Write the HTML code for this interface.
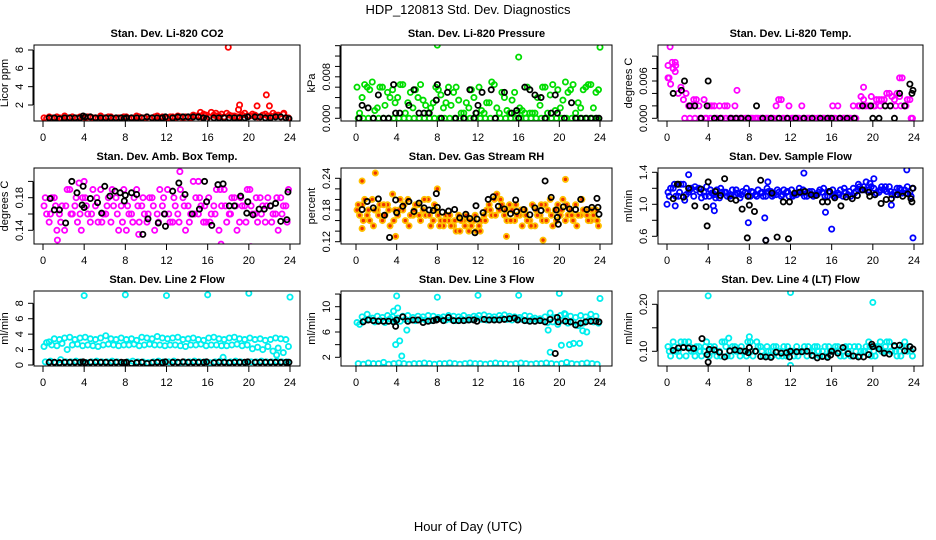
<!DOCTYPE html>
<html><head><meta charset="utf-8"><style>
html,body{margin:0;padding:0;background:#fff;}
svg{display:block;font-family:"Liberation Sans",Arial,sans-serif;}
</style></head><body>
<svg id="chart" width="936" height="540" viewBox="0 0 936 540">
<text x="468" y="14" text-anchor="middle" font-size="13">HDP_120813  Std. Dev. Diagnostics</text>
<text x="468" y="531" text-anchor="middle" font-size="13">Hour of Day (UTC)</text>
</svg>
<script>
// ---------- data arrays ----------
const xTicks = [0,4,8,12,16,20,24];

const co2A = [0.6,0.7,0.5,0.6,0.8,0.6,0.5,0.7,0.6,0.7,0.6,0.8,0.6,0.7,0.5,0.6,0.7,0.6,0.8,0.6,0.7,0.6,0.8,0.7,0.6,0.7,0.8,0.6,0.7,0.9,0.8,1.0,0.7,0.9,0.8,0.7,0.9,0.8,0.7,1.1,0.8,0.9,0.7,1.0,0.8,0.9,0.7,0.6];
const co2B = [0.5,0.6,0.7,0.5,0.6,0.7,0.6,0.5,0.7,0.6,0.5,0.6,0.7,0.5,0.6,0.7,0.5,0.6,0.7,0.6,0.5,0.7,0.6,0.6,0.7,0.6,0.7,0.7,0.6,0.8,0.7,0.9,1.2,0.8,1.0,1.1,0.8,0.7,0.9,0.8,1.0,0.7,0.9,0.8,1.1,0.9,1.0,0.6];
const co2OutHours = [18,19.1,19,20.8,21.7,22,15.3,23.4,16.8];
const co2OutVals = [8.3,2.0,1.5,1.9,3.1,1.9,1.2,1.1,1.1];
const co2BlackHours = [0.6,1.1,1.6,2.1,2.6,3.1,3.6,3.9,4.1,4.6,5.1,5.6,6.1,6.6,7.1,7.6,7.9,8.1,8.6,9.1,9.6,10.1,10.6,11.1,11.6,11.9,12.6,13.1,13.6,14.1,14.6,15.1,15.6,15.9,16.6,17.1,17.6,18.1,18.6,19.1,19.6,19.9,20.6,21.1,21.6,22.1,22.6,23.1,23.6,23.9];
const co2BlackVals = [0.6,0.6,0.5,0.6,0.6,0.6,0.6,0.8,0.7,0.7,0.6,0.6,0.6,0.6,0.6,0.6,0.5,0.6,0.6,0.6,0.6,0.7,0.6,0.6,0.6,0.7,0.6,0.7,0.7,0.7,0.7,0.7,0.6,0.5,0.6,0.6,0.6,0.6,0.6,0.6,0.6,0.7,0.7,0.7,0.6,0.6,0.7,0.7,0.6,0.5];

const presA = [0.006,0.004,0.006,0.007,0.002,0.006,0.005,0.0055,0.004,0.0065,0.003,0.002,0.004,0.0035,0.001,0.003,0.0055,0.002,0.006,0.005,0.0035,0.001,0.002,0.004,0.006,0.001,0.003,0.0065,0.001,0.004,0.001,0.005,0.002,0.001,0.001,0.001,0.0025,0.006,0.0045,0.0015,0.002,0.007,0.0055,0.001,0.002,0.006,0.0065,0.005];
const presB = [0.001,0.0065,0.0055,0.0015,0.006,0.0025,0.004,0.003,0.0065,0.001,0.005,0.0055,0.0065,0.0025,0.002,0.006,0.0045,0.003,0.0025,0.006,0.001,0.003,0.0055,0.001,0.0015,0.003,0.007,0.002,0.005,0.0015,0.0035,0.001,0.0015,0.006,0.001,0.004,0.006,0.001,0.0065,0.0055,0.0035,0.005,0.0065,0.003,0.0055,0.0065,0.002,0.0055];
const presC = [0,0,0,0,0,0,0,0,0,0,0,0,0,0,0,0,0,0,0,0,0,0,0,0,0,0,0,0,0,0,0,0,0,0,0,0,0,0,0,0,0,0,0,0,0,0,0,0];
const presOutHours = [8,16,24];
const presOutVals = [0.0141,0.0118,0.0137];
const presBlackHours = [0.3,0.6,1.2,1.7,2.2,2.7,3.2,3.7,3.9,4.3,5.2,5.7,6.2,6.7,7.2,7.9,8.0,8.4,9.0,9.8,10.6,11.2,11.6,11.8,12.0,12.4,13.3,13.7,14.6,15.3,15.8,16.0,16.6,17.1,17.6,18.2,18.6,19.2,19.6,19.8,20.5,21.2,21.6,22.1,22.6,23.1,23.6,23.9];
const presBlackVals = [0.000,0.0025,0.002,0.000,0.0045,0.000,0.000,0.0065,0.001,0.001,0.0025,0.0055,0.001,0.001,0.001,0.0035,0.0065,0.000,0.005,0.000,0.000,0.0055,0.000,0.001,0.0025,0.005,0.0055,0.000,0.005,0.001,0.0015,0.000,0.006,0.0055,0.0045,0.004,0.000,0.001,0.0045,0.001,0.000,0.003,0.000,0.000,0.000,0.000,0.000,0.000];

const tempA = [0.0065,0.008,0.004,0.003,0.002,0.003,0.002,0.003,0.002,0.002,0.002,0.002,0.0,0.002,0.0,0.0,0.0,0.0,0.0,0.0,0.0,0.002,0.003,0.0,0.0,0.0,0.002,0.0,0.0,0.0,0.0,0.0,0.002,0.002,0.0,0.0,0.002,0.002,0.003,0.002,0.002,0.003,0.003,0.004,0.003,0.0035,0.002,0.003];
const tempB = [0.0055,0.0085,0.005,0.004,0.002,0.003,0.0,0.0,0.002,0.0,0.0,0.002,0.0,0.0,0.0,0.0,0.0,0.0,0.0,0.0,0.0,0.003,0.0,0.002,0.0,0.0,0.0,0.0,0.0,0.0,0.0,0.0,0.0,0.0,0.0,0.0,0.0,0.0035,0.002,0.0035,0.003,0.003,0.004,0.0035,0.004,0.0065,0.003,0.0];
const tempC = [null,null,null,0,0,0,0,0,0,0,0,0,0,0,0,0,0,0,0,0,0,0,0,0,0,0,0,0,0,0,0,0,0,0,0,0,0,0.002,0.002,0.002,0.002,0.002,0.002,0.002,0.002,0.002,0.002,0];
const tempOutHours = [0.3,0.1,0.5,0.8,0.8,6.8,19.1,22.6,0.2];
const tempOutVals = [0.0115,0.0085,0.009,0.009,0.0075,0.0045,0.005,0.0065,0.0065];
const tempBlackHours = [0.6,1.4,1.7,2.2,2.7,3.3,3.9,4.0,4.6,5.2,6.2,6.7,7.2,7.9,8.7,9.3,10.1,10.9,11.7,12.5,13.3,14.1,14.9,15.6,16.0,16.8,17.5,18.2,19.0,19.8,20.0,20.6,21.2,21.7,22.1,22.6,23.1,23.6,23.8,23.9];
const tempBlackVals = [0.004,0.0045,0.006,0.002,0.002,0.0,0.002,0.006,0.0,0.0,0.0,0.0,0.0,0.0,0.002,0.0,0.0,0.0,0.0,0.0,0.0,0.0,0.0,0.0,0.0,0.0,0.0,0.0,0.002,0.002,0.0,0.0,0.002,0.002,0.0,0.004,0.002,0.0055,0.004,0.0045];

const ambA = [0.17,0.15,0.18,0.16,0.14,0.19,0.17,0.16,0.18,0.15,0.17,0.19,0.16,0.15,0.18,0.17,0.14,0.16,0.19,0.17,0.15,0.18,0.16,0.17,0.19,0.15,0.16,0.18,0.17,0.2,0.16,0.15,0.18,0.17,0.14,0.19,0.16,0.18,0.15,0.17,0.19,0.16,0.18,0.15,0.17,0.16,0.18,0.17];
const ambB = [0.16,0.18,0.14,0.17,0.19,0.16,0.15,0.18,0.16,0.19,0.15,0.16,0.18,0.17,0.14,0.19,0.16,0.18,0.15,0.16,0.18,0.14,0.19,0.16,0.15,0.17,0.19,0.14,0.16,0.18,0.17,0.15,0.16,0.19,0.17,0.15,0.18,0.14,0.17,0.19,0.16,0.15,0.17,0.18,0.16,0.14,0.17,0.19];
const ambC = [0.18,0.16,0.17,0.15,0.17,0.16,0.18,0.14,0.17,0.16,0.18,0.15,0.17,0.19,0.16,0.15,0.17,0.15,0.17,0.18,0.16,0.17,0.15,0.18,0.16,0.18,0.15,0.17,0.15,0.16,0.18,0.17,0.15,0.16,0.19,0.17,0.16,0.17,0.18,0.15,0.17,0.18,0.16,0.17,0.15,0.18,0.16,0.15];
const ambOutHours = [13.3,3.5,15.1,1.4,17.3,20.2,9.3,4.0];
const ambOutVals = [0.212,0.198,0.2,0.128,0.123,0.12,0.135,0.2];
const ambBlackHours = [0.7,1.1,1.6,2.2,2.8,3.3,3.8,3.9,4.0,4.6,5.3,5.7,6.0,6.5,7.0,7.5,7.9,8.0,8.6,9.1,9.7,10.2,11.2,11.8,11.9,12.6,13.2,13.8,14.5,15.2,15.7,15.9,16.4,17.0,17.5,18.1,18.6,19.2,19.8,19.9,20.4,21.0,21.5,22.1,22.6,23.1,23.7,23.8];
const ambBlackVals = [0.179,0.165,0.165,0.149,0.2,0.186,0.171,0.194,0.168,0.179,0.174,0.161,0.194,0.182,0.188,0.186,0.176,0.183,0.186,0.184,0.135,0.154,0.149,0.16,0.145,0.188,0.198,0.184,0.16,0.166,0.2,0.175,0.146,0.196,0.197,0.17,0.17,0.182,0.161,0.175,0.159,0.166,0.166,0.17,0.173,0.151,0.153,0.187];

const rhA = [0.18,0.19,0.17,0.2,0.18,0.16,0.19,0.21,0.17,0.18,0.2,0.17,0.19,0.18,0.2,0.16,0.17,0.15,0.16,0.15,0.17,0.16,0.14,0.16,0.15,0.17,0.19,0.2,0.18,0.17,0.19,0.16,0.17,0.18,0.16,0.15,0.17,0.19,0.2,0.18,0.17,0.16,0.18,0.19,0.17,0.18,0.16,0.18];
const rhB = [0.17,0.2,0.16,0.18,0.19,0.17,0.15,0.18,0.2,0.16,0.17,0.19,0.16,0.17,0.15,0.18,0.16,0.17,0.15,0.14,0.16,0.17,0.15,0.14,0.16,0.18,0.17,0.21,0.19,0.16,0.18,0.17,0.15,0.16,0.19,0.17,0.16,0.18,0.15,0.19,0.2,0.17,0.16,0.17,0.18,0.16,0.17,0.15];
const rhC = [0.19,0.16,0.18,0.15,0.17,0.19,0.18,0.16,0.18,0.19,0.15,0.18,0.17,0.2,0.17,0.19,0.15,0.16,0.17,0.16,0.14,0.15,0.16,0.17,0.14,0.16,0.18,0.17,0.2,0.18,0.16,0.19,0.18,0.17,0.15,0.18,0.19,0.16,0.17,0.16,0.18,0.19,0.17,0.15,0.2,0.17,0.18,0.16];
const rhOutHours = [1.9,0.6,0.6,3.9,18.4,20.6,8.0,14.8];
const rhOutVals = [0.25,0.235,0.145,0.13,0.123,0.238,0.22,0.13];
const rhBlackHours = [0.6,1.1,1.7,2.2,2.8,3.3,3.9,4.0,4.6,5.2,5.7,6.2,6.7,7.2,7.6,7.9,8.0,8.5,9.1,9.7,10.2,10.8,11.2,11.7,11.8,11.9,12.5,13.0,13.5,14.0,14.6,15.2,15.7,15.8,16.5,17.1,17.6,18.2,18.6,19.2,19.7,19.8,19.9,20.4,21.0,21.6,22.1,22.7,23.2,23.7,23.8,23.9];
const rhBlackVals = [0.181,0.196,0.184,0.201,0.17,0.128,0.199,0.175,0.187,0.196,0.177,0.193,0.184,0.18,0.179,0.211,0.185,0.176,0.178,0.181,0.165,0.172,0.164,0.137,0.188,0.163,0.175,0.2,0.205,0.187,0.182,0.173,0.199,0.177,0.181,0.171,0.184,0.179,0.235,0.204,0.18,0.166,0.153,0.186,0.182,0.181,0.2,0.181,0.185,0.202,0.185,0.172];

const flowA = [1.15,1.2,1.1,1.25,1.15,1.1,1.2,1.15,1.1,1.12,1.08,1.15,1.1,1.12,1.08,1.15,1.1,1.12,1.14,1.1,1.16,1.12,1.1,1.15,1.18,1.12,1.14,1.1,1.16,1.12,1.15,1.1,1.18,1.14,1.1,1.12,1.2,1.25,1.22,1.18,1.2,1.15,1.18,1.22,1.15,1.2,1.18,1.15];
const flowB = [1.2,1.1,1.25,1.12,1.2,1.18,1.08,1.22,1.14,1.18,1.15,1.1,1.18,1.14,1.16,1.1,1.15,1.18,1.1,1.16,1.12,1.15,1.18,1.1,1.12,1.2,1.1,1.16,1.12,1.18,1.1,1.15,1.12,1.18,1.15,1.1,1.16,1.18,1.28,1.22,1.14,1.22,1.16,1.12,1.2,1.14,1.22,1.2];
const flowC = [1.1,1.25,1.15,1.05,1.18,1.22,1.15,1.1,1.18,1.08,1.2,1.15,1.12,1.18,1.12,1.2,1.16,1.1,1.15,1.2,1.1,1.18,1.12,1.16,1.1,1.15,1.18,1.14,1.1,1.15,1.2,1.16,1.1,1.12,1.2,1.16,1.14,1.22,1.18,1.26,1.12,1.18,1.22,1.16,1.12,1.18,1.14,1.1];
const flowOutHours = [0,0.8,2.1,4.5,4.6,7.9,9.5,15.4,16.0,13.3,23.3,23.9,9.6,21.8,9.8,20.1];
const flowOutVals = [1.0,0.98,1.37,0.98,0.92,0.77,0.83,0.9,0.69,1.39,1.43,0.58,0.55,0.99,1.28,1.32];
const flowBlackHours = [0.6,1.0,1.1,1.6,2.1,2.7,3.3,3.8,3.9,4.0,4.7,5.2,5.6,6.2,6.7,7.3,7.8,7.9,8.0,8.5,9.1,9.6,10.2,10.7,11.3,11.8,11.9,12.4,12.9,13.4,14.0,14.5,15.1,15.6,15.8,16.3,16.9,17.4,18.0,18.5,19.0,19.6,19.7,20.2,20.8,21.3,21.8,22.4,22.9,23.4,23.7,23.8,23.9];
const flowBlackVals = [1.07,1.25,1.25,1.09,1.2,0.98,1.19,0.97,0.73,1.28,1.16,1.11,1.32,1.07,1.05,0.94,0.58,1.1,0.99,0.91,1.3,0.55,1.14,0.59,1.03,0.57,1.03,1.14,1.15,1.16,1.12,1.11,1.03,1.03,1.16,1.08,0.98,1.09,1.07,1.11,1.18,1.15,1.1,1.12,1.01,1.06,1.07,1.12,1.1,1.13,1.07,1.03,1.2];

const l2A = [2.4,3.0,3.4,3.3,3.5,3.6,3.3,3.5,3.6,3.4,3.3,3.5,3.8,3.4,3.3,3.5,3.3,3.4,3.2,3.6,3.5,3.4,3.7,3.5,3.4,3.5,3.6,3.3,3.4,3.5,3.3,3.2,3.5,3.6,3.4,3.3,3.5,3.6,3.4,3.3,3.5,3.3,3.4,3.2,3.3,3.5,3.4,3.3];
const l2B = [2.9,2.6,2.5,2.8,2.0,2.6,2.7,2.5,2.6,2.5,2.4,2.6,2.7,2.6,2.5,2.6,2.6,2.7,2.5,2.6,2.7,2.6,2.6,2.5,2.6,2.6,2.5,2.4,2.6,2.6,2.7,2.5,2.6,2.6,2.5,2.5,2.6,2.7,2.5,2.6,2.1,2.3,2.0,2.4,1.8,2.2,1.6,2.4];
const l2C = [0.4,0.5,0.3,0.7,0.4,0.4,0.5,0.4,0.3,0.4,0.5,0.4,0.4,0.5,0.4,0.3,0.4,0.5,0.4,0.4,0.3,0.4,0.5,0.4,0.4,0.5,0.3,0.4,0.4,0.5,0.4,0.4,0.3,0.4,0.5,0.4,0.4,0.5,0.4,0.3,0.4,0.4,0.5,0.4,0.4,0.5,0.4,0.4];
const l2OutHours = [4,8,12,16,20,24,17.5,22.7];
const l2OutVals = [9.0,9.1,9.0,9.1,9.3,8.8,1.0,1.3];
const l2BlackHours = co2BlackHours;
const l2BlackVals = [0.35,0.35,0.3,0.35,0.35,0.35,0.35,0.4,0.3,0.35,0.35,0.35,0.35,0.3,0.35,0.35,0.3,0.35,0.2,0.3,0.35,0.2,0.3,0.35,0.3,0.4,0.35,0.35,0.4,0.35,0.35,0.35,0.35,0.4,0.3,0.35,0.35,0.3,0.35,0.35,0.35,0.4,0.35,0.35,0.35,0.35,0.35,0.35,0.35,0.35];

const l3A = [7.5,8.4,8.8,8.2,8.5,8.3,8.6,8.4,8.2,8.5,8.6,8.3,8.5,8.4,8.6,8.5,8.3,8.4,8.6,8.5,8.4,8.6,8.3,8.5,8.6,8.7,8.5,8.4,8.6,8.7,8.5,8.4,8.3,8.6,8.5,8.2,8.1,8.4,9.0,8.3,8.6,8.8,8.5,8.3,8.6,8.4,8.8,8.5];
const l3B = [7.2,7.8,8.0,7.6,7.9,7.5,8.1,7.8,7.7,8.0,7.9,7.8,8.0,7.9,7.8,8.0,8.1,7.9,8.0,7.8,8.1,7.9,8.0,8.2,8.0,7.9,8.1,8.0,8.2,8.0,7.9,8.1,8.0,7.8,8.0,7.9,7.8,7.5,7.6,7.2,7.8,7.4,7.6,7.0,7.4,7.8,7.6,7.4];
const l3C = [1.0,0.9,1.1,1.0,1.0,1.2,0.9,1.0,1.1,1.0,0.9,1.0,1.0,1.1,1.0,0.9,1.0,1.0,1.1,1.0,0.9,1.0,1.1,1.0,1.0,0.9,1.0,1.1,1.0,1.0,0.9,1.0,1.1,1.0,0.9,1.0,1.0,1.1,1.0,0.9,1.0,1.2,1.0,0.9,1.0,1.1,1.0,0.9];
const l3OutHours = [4.0,8.0,12.0,16.0,20.0,24.0,3.9,4.3,4.5,5.0,4.1,3.7,18.9,19.1,20.2,21.0,21.4,22.0,22.3,22.7,20.5];
const l3OutVals = [11.7,11.5,11.8,11.8,12.1,11.3,4.0,4.6,2.2,6.3,9.8,9.3,6.3,2.8,3.9,4.0,4.2,4.2,6.2,6.0,8.9];
const l3BlackHours = [0.7,1.2,1.7,2.2,2.7,3.2,3.7,3.9,4.0,4.6,5.1,5.6,6.1,6.6,7.1,7.6,7.9,8.0,8.6,9.1,9.6,10.1,10.6,11.1,11.6,11.9,12.6,13.1,13.6,14.1,14.6,15.1,15.6,15.9,16.6,17.1,17.6,18.1,18.6,19.1,19.6,19.8,19.9,20.6,21.1,21.6,22.1,22.6,23.1,23.6,23.9];
const l3BlackVals = [7.6,7.9,7.8,7.7,7.7,7.7,7.6,6.9,7.9,8.4,7.7,7.9,7.9,7.5,7.7,7.8,7.9,8.0,7.8,8.3,7.8,7.8,7.8,7.9,7.9,7.7,8.0,7.9,7.9,7.9,8.0,8.1,8.2,7.9,7.8,7.7,7.7,7.8,7.6,8.0,2.6,8.3,7.6,7.7,7.6,7.1,7.4,7.6,7.7,7.7,7.6];

const l4A = [0.11,0.12,0.1,0.11,0.12,0.1,0.11,0.1,0.09,0.11,0.1,0.12,0.1,0.11,0.09,0.1,0.12,0.1,0.11,0.09,0.1,0.11,0.1,0.09,0.1,0.11,0.1,0.09,0.1,0.11,0.1,0.09,0.1,0.11,0.1,0.1,0.09,0.11,0.1,0.12,0.1,0.11,0.1,0.12,0.11,0.1,0.12,0.11];
const l4B = [0.09,0.1,0.12,0.09,0.1,0.11,0.09,0.12,0.1,0.09,0.12,0.09,0.11,0.1,0.1,0.12,0.09,0.11,0.09,0.1,0.11,0.09,0.11,0.1,0.09,0.1,0.11,0.1,0.11,0.09,0.11,0.1,0.11,0.09,0.11,0.09,0.1,0.1,0.11,0.09,0.11,0.1,0.12,0.1,0.09,0.11,0.1,0.09];
const l4C = [0.1,0.11,0.09,0.12,0.11,0.09,0.1,0.11,0.11,0.1,0.09,0.11,0.09,0.1,0.11,0.09,0.1,0.12,0.1,0.11,0.09,0.1,0.09,0.11,0.1,0.09,0.1,0.11,0.09,0.1,0.09,0.11,0.1,0.1,0.09,0.11,0.11,0.09,0.1,0.11,0.09,0.12,0.11,0.1,0.1,0.09,0.11,0.1];
const l4OutHours = [4.0,12.0,20.0,8.0,6.0,12.0];
const l4OutVals = [0.218,0.225,0.204,0.131,0.128,0.07];
const l4BlackHours = [0.6,1.1,1.6,2.1,2.6,3.4,3.9,4.0,4.1,4.6,5.1,5.6,6.1,6.6,7.1,7.6,7.9,8.0,8.6,9.1,9.6,10.1,10.6,11.1,11.6,11.9,12.0,12.6,13.1,13.6,14.1,14.6,15.1,15.6,15.9,16.0,16.6,17.1,17.6,18.1,18.6,19.1,19.6,19.9,20.0,20.6,21.1,21.6,22.1,22.6,23.1,23.6,23.9];
const l4BlackVals = [0.102,0.107,0.108,0.107,0.106,0.127,0.093,0.077,0.104,0.103,0.098,0.088,0.101,0.103,0.101,0.1,0.097,0.108,0.1,0.089,0.088,0.087,0.098,0.096,0.097,0.088,0.1,0.099,0.099,0.1,0.091,0.086,0.089,0.087,0.092,0.1,0.096,0.108,0.095,0.09,0.088,0.088,0.093,0.115,0.11,0.105,0.096,0.094,0.112,0.113,0.101,0.11,0.105];

// ---------- layout ----------
const cols = [{l:34,r:300,x0:43,x24:290},{l:341,r:612,x0:356,x24:600},{l:658,r:923,x0:667,x24:914}];
const rows = [{t:45,b:121},{t:168,b:244},{t:291,b:366}];
const NS = 'http://www.w3.org/2000/svg';
const svg = document.getElementById('chart');
const PR = 2.6, PW = 1.8;

function mk(tag, attrs, parent){
  const e = document.createElementNS(NS, tag);
  for (const k in attrs) e.setAttribute(k, attrs[k]);
  (parent||svg).appendChild(e);
  return e;
}
function hoursA(n){const h=[];for(let i=0;i<n;i++)h.push(i*0.5+0.1);return h;}
function hoursB(n){const h=[];for(let i=0;i<n;i++)h.push(i*0.5+0.35);return h;}
function hoursC(n){const h=[];for(let i=0;i<n;i++)h.push(i*0.5+0.22);return h;}

const panels = [
 {name:'co2',title:'Stan. Dev. Li-820 CO2',ylab:'Licor ppm',col:0,row:0,a:[2,105],b:[8,50],ticks:[2,4,6,8],labels:['2','4','6','8'],color:'#ff0000',fill:'none',series:[co2A,co2B],oh:co2OutHours,ov:co2OutVals,bh:co2BlackHours,bv:co2BlackVals},
 {name:'pressure',title:'Stan. Dev. Li-820 Pressure',ylab:'kPa',col:1,row:0,a:[0,118.3],b:[0.008,76.8],ticks:[0,0.002,0.004,0.006,0.008,0.010,0.012,0.014],labels:['0.000','','','','0.008','','',''],color:'#00dd00',fill:'none',series:[presA,presB,presC],oh:presOutHours,ov:presOutVals,bh:presBlackHours,bv:presBlackVals},
 {name:'temp',title:'Stan. Dev. Li-820 Temp.',ylab:'degrees C',col:2,row:0,a:[0,118.3],b:[0.006,81],ticks:[0,0.002,0.004,0.006,0.008,0.010],labels:['0.000','','','0.006','',''],color:'#ff00ff',fill:'none',series:[tempA,tempB,tempC],oh:tempOutHours,ov:tempOutVals,bh:tempBlackHours,bv:tempBlackVals},
 {name:'amb-temp',title:'Stan. Dev. Amb. Box Temp.',ylab:'degrees C',col:0,row:1,a:[0.14,230.3],b:[0.18,197.7],ticks:[0.14,0.16,0.18,0.20],labels:['0.14','','0.18',''],color:'#ff00ff',fill:'none',series:[ambA,ambB,ambC],oh:ambOutHours,ov:ambOutVals,bh:ambBlackHours,bv:ambBlackVals},
 {name:'gas-rh',title:'Stan. Dev. Gas Stream RH',ylab:'percent',col:1,row:1,a:[0.12,241.7],b:[0.24,178.3],ticks:[0.12,0.14,0.16,0.18,0.20,0.22,0.24],labels:['0.12','','','0.18','','','0.24'],color:'#ffc000',fill:'#ee3300',series:[rhA,rhB,rhC],oh:rhOutHours,ov:rhOutVals,bh:rhBlackHours,bv:rhBlackVals},
 {name:'sample-flow',title:'Stan. Dev. Sample Flow',ylab:'ml/min',col:2,row:1,a:[0.6,236.3],b:[1.4,172.3],ticks:[0.6,0.8,1.0,1.2,1.4],labels:['0.6','','1.0','','1.4'],color:'#0000ff',fill:'none',series:[flowA,flowB,flowC],oh:flowOutHours,ov:flowOutVals,bh:flowBlackHours,bv:flowBlackVals},
 {name:'line2-flow',title:'Stan. Dev. Line 2 Flow',ylab:'ml/min',col:0,row:2,a:[0,365],b:[8,303.3],ticks:[0,2,4,6,8],labels:['0','2','4','6','8'],color:'#00eeee',fill:'none',series:[l2A,l2B,l2C],oh:l2OutHours,ov:l2OutVals,bh:l2BlackHours,bv:l2BlackVals},
 {name:'line3-flow',title:'Stan. Dev. Line 3 Flow',ylab:'ml/min',col:1,row:2,a:[2,357.3],b:[10,306.7],ticks:[2,4,6,8,10,12],labels:['2','','6','','10',''],color:'#00eeee',fill:'none',series:[l3A,l3B,l3C],oh:l3OutHours,ov:l3OutVals,bh:l3BlackHours,bv:l3BlackVals},
 {name:'line4-flow',title:'Stan. Dev. Line 4 (LT) Flow',ylab:'ml/min',col:2,row:2,a:[0.10,351.3],b:[0.20,304.3],ticks:[0.10,0.15,0.20],labels:['0.10','','0.20'],color:'#00eeee',fill:'none',series:[l4A,l4B,l4C],oh:l4OutHours,ov:l4OutVals,bh:l4BlackHours,bv:l4BlackVals}
];

panels.forEach(p=>{
  const c = cols[p.col], r = rows[p.row];
  const xs = h => c.x0 + (c.x24 - c.x0) * h / 24;
  const ys = v => p.a[1] + (v - p.a[0]) * (p.b[1] - p.a[1]) / (p.b[0] - p.a[0]);
  const g = mk('g', {});
  
  

  const t = mk('text', {x:(c.l+c.r)/2, y:r.t-8, 'text-anchor':'middle','font-size':'11','font-weight':'bold'}, g);
  t.textContent = p.title;
  
  

  const clip = mk('clipPath', {id:'clip-'+p.name}, g);
  mk('rect', {x:c.l, y:r.t, width:c.r-c.l, height:r.b-r.t}, clip);

  const xa = mk('g', {}, g);
  
  
  mk('line', {x1:c.x0, x2:c.x24, y1:r.b, y2:r.b, stroke:'#000','stroke-width':1}, xa);
  xTicks.forEach(v=>{
    mk('line', {x1:xs(v), x2:xs(v), y1:r.b, y2:r.b+6, stroke:'#000','stroke-width':1}, xa);
    const tl = mk('text', {x:xs(v), y:r.b+20, 'text-anchor':'middle','font-size':'11'}, xa);
    tl.textContent = String(v);
    
    
  });

  const ya = mk('g', {}, g);
  
  
  const yT = p.ticks.map(ys);
  mk('line', {x1:c.l-1, x2:c.l-1, y1:Math.min(...yT), y2:Math.max(...yT), stroke:'#000','stroke-width':1}, ya);
  p.ticks.forEach((v,i)=>{
    const y = ys(v);
    mk('line', {x1:c.l-6, x2:c.l-1, y1:y, y2:y, stroke:'#000','stroke-width':1}, ya);
    if (p.labels[i]) {
      const tl = mk('text', {x:c.l-11, y:y, 'text-anchor':'middle','font-size':'11',transform:`rotate(-90 ${c.l-11} ${y})`}, ya);
      tl.textContent = p.labels[i];
      
      
    }
  });
  const yl = mk('text', {x:c.l-26, y:(r.t+r.b)/2, 'text-anchor':'middle','font-size':'11',transform:`rotate(-90 ${c.l-26} ${(r.t+r.b)/2})`}, g);
  yl.textContent = p.ylab;
  
  

  const pts = mk('g', {'clip-path':`url(#clip-${p.name})`}, g);
  
  
  const hourFns = [hoursA, hoursB, hoursC];
  p.series.forEach((arr, si)=>{
    const hs = hourFns[si](arr.length);
    arr.forEach((v,i)=>{
      if (v === null) return;
      const ci = mk('circle', {cx:xs(hs[i]), cy:ys(v), r:PR, fill:p.fill, stroke:p.color, 'stroke-width':PW}, pts);
      
      
    });
  });
  p.ov.forEach((v,i)=>{
    const ci = mk('circle', {cx:xs(p.oh[i]), cy:ys(v), r:PR, fill:p.fill, stroke:p.color, 'stroke-width':PW}, pts);
    
    
  });
  const n = Math.min(p.bh.length, p.bv.length);
  for (let i=0;i<n;i++){
    const ci = mk('circle', {cx:xs(p.bh[i]), cy:ys(p.bv[i]), r:PR, fill:'none', stroke:'#000', 'stroke-width':PW}, pts);
    
    
  }

  const box = mk('rect', {x:c.l, y:r.t, width:c.r-c.l, height:r.b-r.t, fill:'none', stroke:'#000','stroke-width':1}, g);
  
  
});
</script>
</body></html>
